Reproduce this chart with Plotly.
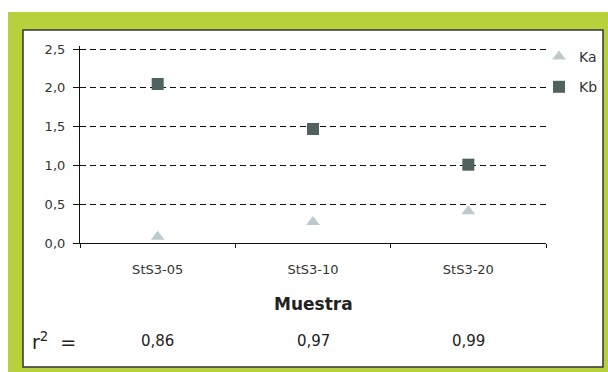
import plotly.graph_objects as go

# Samples and measured constants
muestras = ["StS3-05", "StS3-10", "StS3-20"]
ka = [0.08, 0.27, 0.41]
kb = [2.05, 1.47, 1.01]
r2 = ["0,86", "0,97", "0,99"]
y_ticks = [0.0, 0.5, 1.0, 1.5, 2.0, 2.5]
y_tick_labels = ["0,0", "0,5", "1,0", "1,5", "2,0", "2,5"]

W, H = 608, 372
L, R, T, B = 80, 62, 46, 129
pw, ph = W - L - R, H - T - B
FONT = "DejaVu Sans"


def px_x(x):
    return (x - L) / pw


def px_y(y):
    return (H - B - y) / ph


fig = go.Figure()
fig.add_trace(go.Scatter(
    x=muestras, y=ka, mode="markers", name="Ka", legendgroup="a",
    marker=dict(symbol="triangle-up", size=12, color="#bccacd"),
))
fig.add_trace(go.Scatter(
    x=muestras, y=kb, mode="markers", name="Kb", legendgroup="b",
    marker=dict(symbol="square", size=12, color="#506260"),
))

shapes = [
    # green frame
    dict(type="rect", xref="paper", yref="paper", layer="below",
         x0=px_x(8), x1=px_x(612), y0=px_y(376), y1=px_y(12),
         fillcolor="#b7d13c", line=dict(width=0)),
    # inner white panel
    dict(type="rect", xref="paper", yref="paper", layer="below",
         x0=px_x(23), x1=px_x(603), y0=px_y(367), y1=px_y(30),
         fillcolor="white", line=dict(color="#333333", width=1.5)),
]

annotations = [
    dict(text="<b>Muestra</b>", xref="paper", yref="paper",
         x=px_x(313), y=px_y(304), xanchor="center", yanchor="middle",
         showarrow=False, font=dict(family=FONT, size=17, color="#222222")),
    dict(text="r<sup>2</sup>  =", xref="paper", yref="paper",
         x=px_x(30), y=px_y(341), xanchor="left", yanchor="middle",
         showarrow=False, font=dict(family=FONT, size=19, color="#222222")),
]
for m, v in zip(muestras, r2):
    annotations.append(dict(
        text=v, xref="x", yref="paper", x=m, y=px_y(341),
        xanchor="center", yanchor="middle", showarrow=False,
        font=dict(family=FONT, size=15, color="#222222")))

fig.update_layout(
    width=W, height=H,
    margin=dict(l=L, r=R, t=T, b=B, pad=0, autoexpand=False),
    paper_bgcolor="white", plot_bgcolor="rgba(0,0,0,0)",
    font=dict(family=FONT, color="#222222"),
    shapes=shapes, annotations=annotations,
    showlegend=True,
    legend=dict(x=px_x(539), y=px_y(41), xanchor="left", yanchor="top",
                bgcolor="rgba(0,0,0,0)", itemwidth=30,
                traceorder="grouped", tracegroupgap=9,
                font=dict(family=FONT, size=14, color="#333333")),
)
fig.update_xaxes(
    type="category", range=[-0.5, 2.5], showline=True, linecolor="#111111",
    linewidth=1.2, showgrid=False, ticks="outside", tickson="boundaries",
    ticklen=4, tickcolor="#111111", ticklabelstandoff=14,
    tickfont=dict(family=FONT, size=13, color="#333333"),
)
fig.update_yaxes(
    range=[0, 2.54], tickvals=y_ticks, ticktext=y_tick_labels,
    showline=True, linecolor="#111111", linewidth=1.2,
    ticks="outside", ticklen=6, tickcolor="#111111", ticklabelstandoff=5,
    showgrid=True, gridcolor="#111111", gridwidth=1, griddash="6px,4px",
    zeroline=False,
    tickfont=dict(family=FONT, size=13, color="#333333"),
)

fig.write_html("out.html")
